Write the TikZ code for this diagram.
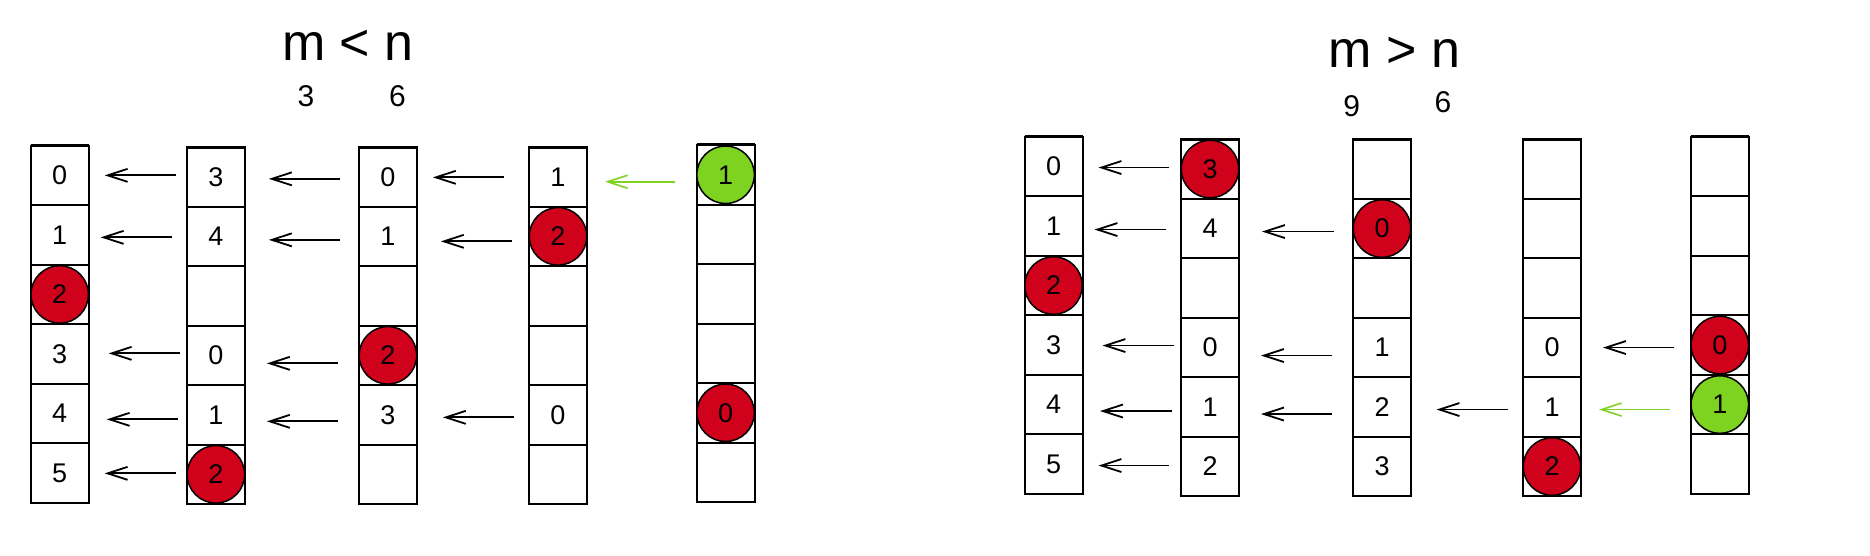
\documentclass[tikz,border=0pt]{standalone}
\usepackage{fontspec}
\setmainfont{Liberation Sans}
\usetikzlibrary{arrows.meta}
\definecolor{ballred}{HTML}{D0021B}
\definecolor{ballgreen}{HTML}{7ED321}
\tikzset{
	cell/.style={draw, line width=2pt, minimum width=58pt, minimum height=59.5pt, inner sep=0pt, outer sep=0pt, font=\fontsize{27}{27}\selectfont},
	ball/.style={draw, circle, line width=1.5pt, minimum size=57.5pt, inner sep=0pt, font=\fontsize{27}{27}\selectfont},
	redball/.style={ball, fill=ballred},
	greenball/.style={ball, fill=ballgreen},
	topline/.style={line width=3pt},
	trans/.style={draw, line width=1.8pt, -{Straight Barb[length=20pt, width=13pt]}},
	greentrans/.style={trans, ballgreen, line width=1.6pt},
	title/.style={anchor=base, font=\fontsize{52}{52}\selectfont},
	countlabel/.style={anchor=base, font=\fontsize{30}{30}\selectfont},
}

\begin{document}
\begin{tikzpicture}[x=1pt, y=-1pt]
		\useasboundingbox (0,0) rectangle (1870,556);
		\newcommand{\cellh}{59.5}
		% name, center x, top y, six entries
		\newcommand{\cellcolumn}[9]{%
			\node[cell] (#1c0) at (#2, #3+0.5*\cellh) {#4};
			\node[cell] (#1c1) at (#2, #3+1.5*\cellh) {#5};
			\node[cell] (#1c2) at (#2, #3+2.5*\cellh) {#6};
			\node[cell] (#1c3) at (#2, #3+3.5*\cellh) {#7};
			\node[cell] (#1c4) at (#2, #3+4.5*\cellh) {#8};
			\node[cell] (#1c5) at (#2, #3+5.5*\cellh) {#9};
			\draw[topline] (#1c0.north west) -- (#1c0.north east);
		}
		
		% m < n
		\node[title] (lefttitle) at (348,61) {m < n};
		\node[countlabel] (leftm) at (305.9,106.4) {3};
		\node[countlabel] (leftn) at (397.4,106.4) {6};
		
		\cellcolumn{l1}{59.7}{145.7}{0}{1}{}{3}{4}{5}
		\cellcolumn{l2}{215.9}{147.1}{3}{4}{}{0}{1}{}
		\cellcolumn{l3}{387.9}{147.1}{0}{1}{}{}{3}{}
		\cellcolumn{l4}{558}{147.1}{1}{}{}{}{0}{}
		\cellcolumn{l5}{725.6}{145}{}{}{}{}{}{}
		
		\node[redball] (l1ball) at (l1c2) {2};
		\node[redball] (l2ball) at (l2c5) {2};
		\node[redball] (l3ball) at (l3c3) {2};
		\node[redball] (l4ball) at (l4c1) {2};
		\node[greenball] (l5green) at (l5c0) {1};
		\node[redball] (l5ball) at (l5c4) {0};
		
		\draw[trans, shorten >=16pt, shorten <=11pt] ([yshift=1.5pt]l2c0.west) -- ([yshift=1.5pt]l2c0.west -| l1c0.east);
		\draw[trans, shorten >=12pt, shorten <=15pt] ([yshift=-1pt]l2c1.west) -- ([yshift=-1pt]l2c1.west -| l1c1.east);
		\draw[trans, shorten >=20pt, shorten <=7pt] ([yshift=2pt]l2c3.west) -- ([yshift=2pt]l2c3.west -| l1c3.east);
		\draw[trans, shorten >=18pt, shorten <=9pt] ([yshift=-4.5pt]l2c4.west) -- ([yshift=-4.5pt]l2c4.west -| l1c4.east);
		\draw[trans, shorten >=16pt, shorten <=11pt] ([yshift=1pt]l2c5.west) -- ([yshift=1pt]l2c5.west -| l1c5.east);
		
		\draw[trans, shorten >=24pt, shorten <=19pt] ([yshift=-2pt]l3c0.west) -- ([yshift=-2pt]l3c0.west -| l2c0.east);
		\draw[trans, shorten >=24pt, shorten <=19pt] ([yshift=-3.5pt]l3c1.west) -- ([yshift=-3.5pt]l3c1.west -| l2c1.east);
		\draw[trans, shorten >=22pt, shorten <=21pt] ([yshift=-8pt]l3c3.west) -- ([yshift=-8pt]l3c3.west -| l2c3.east);
		\draw[trans, shorten >=22pt, shorten <=21pt] ([yshift=-6.5pt]l3c4.west) -- ([yshift=-6.5pt]l3c4.west -| l2c4.east);
		
		\draw[trans, shorten >=16pt, shorten <=25pt] ([yshift=-0.5pt]l4c0.west) -- ([yshift=-0.5pt]l4c0.west -| l3c0.east);
		\draw[trans, shorten >=24pt, shorten <=17pt] ([yshift=-5pt]l4c1.west) -- ([yshift=-5pt]l4c1.west -| l3c1.east);
		\draw[trans, shorten >=26pt, shorten <=15pt] ([yshift=-2.5pt]l4c4.west) -- ([yshift=-2.5pt]l4c4.west -| l3c4.east);
		
		\draw[greentrans, shorten >=18pt, shorten <=21.5pt] ([yshift=-7pt]l5c0.west) -- ([yshift=-7pt]l5c0.west -| l4c0.east);
		
		% m > n
		\node[title] (righttitle) at (1394.5,67.4) {m > n};
		\node[countlabel] (rightm) at (1351.8,116.3) {9};
		\node[countlabel] (rightn) at (1443,112.8) {6};
		
		\cellcolumn{r1}{1053.5}{136.8}{0}{1}{}{3}{4}{5}
		\cellcolumn{r2}{1210}{139.3}{}{4}{}{0}{1}{2}
		\cellcolumn{r3}{1382}{139.3}{}{}{}{1}{2}{3}
		\cellcolumn{r4}{1552}{139.3}{}{}{}{0}{1}{}
		\cellcolumn{r5}{1719.8}{136.8}{}{}{}{}{}{}
		
		\node[redball] (r1ball) at (r1c2) {2};
		\node[redball] (r2ball) at (r2c0) {3};
		\node[redball] (r3ball) at (r3c1) {0};
		\node[redball] (r4ball) at (r4c5) {2};
		\node[redball] (r5ball) at (r5c3) {0};
		\node[greenball] (r5green) at (r5c4) {1};
		
		\draw[trans, shorten >=16pt, shorten <=12pt] ([yshift=1.5pt]r2c0.west) -- ([yshift=1.5pt]r2c0.west -| r1c0.east);
		\draw[trans, shorten >=12pt, shorten <=15.5pt] ([yshift=-1pt]r2c1.west) -- ([yshift=-1pt]r2c1.west -| r1c1.east);
		\draw[trans, shorten >=20pt, shorten <=7pt] ([yshift=2pt]r2c3.west) -- ([yshift=2pt]r2c3.west -| r1c3.east);
		\draw[trans, shorten >=17.5pt, shorten <=9pt] ([yshift=-4pt]r2c4.west) -- ([yshift=-4pt]r2c4.west -| r1c4.east);
		\draw[trans, shorten >=16pt, shorten <=12pt] ([yshift=1pt]r2c5.west) -- ([yshift=1pt]r2c5.west -| r1c5.east);
		
		\draw[trans, shorten >=23pt, shorten <=19pt] ([yshift=-3pt]r3c1.west) -- ([yshift=-3pt]r3c1.west -| r2c1.east);
		\draw[trans, shorten >=22pt, shorten <=21pt] ([yshift=-8pt]r3c3.west) -- ([yshift=-8pt]r3c3.west -| r2c3.east);
		\draw[trans, shorten >=22pt, shorten <=21pt] ([yshift=-7pt]r3c4.west) -- ([yshift=-7pt]r3c4.west -| r2c4.east);
		
		\draw[trans, shorten >=25.5pt, shorten <=15pt] ([yshift=-2.5pt]r4c4.west) -- ([yshift=-2.5pt]r4c4.west -| r3c4.east);
		
		\draw[trans, shorten >=22pt, shorten <=16.5pt] ([yshift=-2.5pt]r5c3.west) -- ([yshift=-2.5pt]r5c3.west -| r4c3.east);
		\draw[greentrans, shorten >=18pt, shorten <=20.5pt] ([yshift=-5pt]r5c4.west) -- ([yshift=-5pt]r5c4.west -| r4c4.east);
		
	\end{tikzpicture}
\end{document}
